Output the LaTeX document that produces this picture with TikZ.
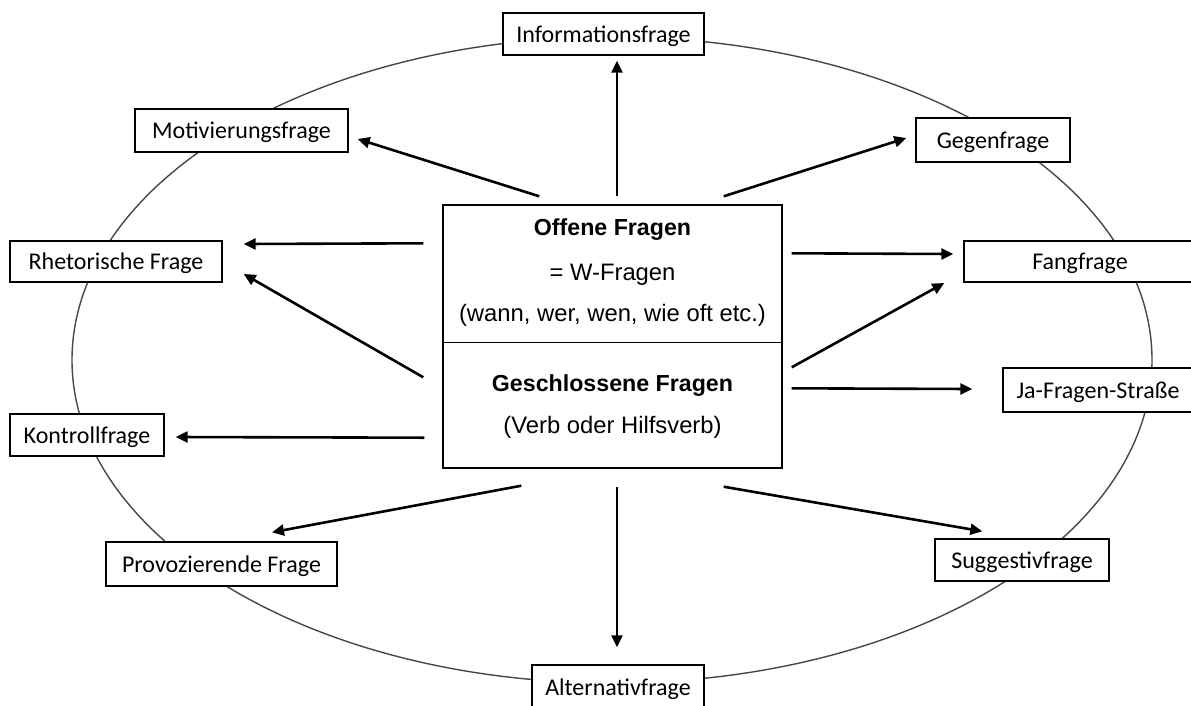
\documentclass[tikz,border=0pt]{standalone}
\usepackage{fontspec}
\setmainfont{Carlito}
\newfontfamily\arialfont{Liberation Sans}
\usetikzlibrary{calc,arrows.meta}
\tikzset{
  outerbox/.style={draw=black, line width=1.4pt, fill=white, rectangle, inner sep=0pt,
    text height=16pt, text depth=0pt, font=\fontsize{24}{26}\selectfont},
  centerbox/.style={draw=black, line width=1.4pt, fill=white, rectangle, inner sep=0pt},
  ctext/.style={anchor=base, inner sep=0pt, font=\arialfont\fontsize{23.8}{26}\selectfont},
  ctextb/.style={ctext, font=\arialfont\bfseries\fontsize{23.2}{26}\selectfont},
  arr/.style={draw=black, line width=2.6pt, -{Triangle[length=12pt,width=11pt]}},
  ring/.style={draw=black!72, line width=1.4pt}
}
\begin{document}
\begin{tikzpicture}[x=1pt,y=-1pt]
\useasboundingbox (0,0) rectangle (1191,705);
\clip (0,0) rectangle (1191,705);
\fill[white] (0,0) rectangle (1191,705);
% ellipse
\draw[ring] (612,360) ellipse [x radius=540, y radius=323];
% outer boxes
\node[outerbox, minimum width=201pt, minimum height=42pt] (info) at (603.5,34) {Informationsfrage};
\node[outerbox, minimum width=213pt, minimum height=43pt] (mot) at (241.5,130.5) {Motivierungsfrage};
\node[outerbox, minimum width=154pt, minimum height=44pt] (gegen) at (993,140) {Gegenfrage};
\node[outerbox, minimum width=212pt, minimum height=41pt] (rhet) at (116,261.5) {Rhetorische Frage};
\node[outerbox, minimum width=232pt, minimum height=41pt] (fang) at (1080,261.5) {Fangfrage};
\node[outerbox, minimum width=190pt, minimum height=44pt] (ja) at (1098,390) {Ja-Fragen-Straße};
\node[outerbox, minimum width=154pt, minimum height=42pt] (kontroll) at (87,435) {Kontrollfrage};
\node[outerbox, minimum width=231pt, minimum height=44pt] (prov) at (221.5,564) {Provozierende Frage};
\node[outerbox, minimum width=174pt, minimum height=42pt] (sugg) at (1022,560) {Suggestivfrage};
\node[outerbox, minimum width=172pt, minimum height=44pt] (alt) at (618,687) {Alternativfrage};
% center box
\node[centerbox, minimum width=339pt, minimum height=263pt] (cb) at (612.5,336.5) {};
\coordinate (divL) at ($(cb.north west)+(0,138)$);
\coordinate (divR) at ($(cb.north east)+(0,138)$);
\draw[line width=1.4pt] (divL) -- (divR);
\node[ctextb] (t1) at (612.5,235) {Offene Fragen};
\node[ctext] (t2) at (612.5,280) {= W-Fragen};
\node[ctext] (t3) at (612.5,321) {(wann, wer, wen, wie oft etc.)};
\node[ctextb] (t4) at (612.5,391) {Geschlossene Fragen};
\node[ctext] (t5) at (612.5,433) {(Verb oder Hilfsverb)};
% arrows
\draw[arr] ($(cb.north)+(4.5,-8)$) -- ($(info.south)+(13.5,5)$);
\draw[arr] ($(cb.north west)+(97,-8)$) -- ($(mot.east)+(9,8.5)$);
\draw[arr] ($(cb.north east)+(-59,-8)$) -- ($(gegen.west)+(-9,-2)$);
\draw[arr] ($(cb.north west)+(-19,39)$) -- ($(rhet.east)+(21,-17.5)$);
\draw[arr] ($(cb.north west)+(-19,173)$) -- ($(rhet.east)+(21,12.5)$);
\draw[arr] ($(cb.north east)+(9,49)$) -- ($(fang.west)+(-10,-7.5)$);
\draw[arr] ($(cb.north east)+(9,163)$) -- ($(fang.west)+(-19,21.5)$);
\draw[arr] ($(cb.north east)+(9,184)$) -- ($(ja.west)+(-30,-1)$);
\draw[arr] ($(cb.south west)+(-18,-31)$) -- ($(kontroll.east)+(11,2)$);
\draw[arr] ($(cb.south west)+(79,17)$) -- ($(prov.north)+(50.5,-9)$);
\draw[arr] ($(cb.south)+(4.5,18)$) -- ($(alt.north)+(-1,-17)$);
\draw[arr] ($(cb.south east)+(-59,18)$) -- ($(sugg.north west)+(48,-7)$);
\end{tikzpicture}
\end{document}
